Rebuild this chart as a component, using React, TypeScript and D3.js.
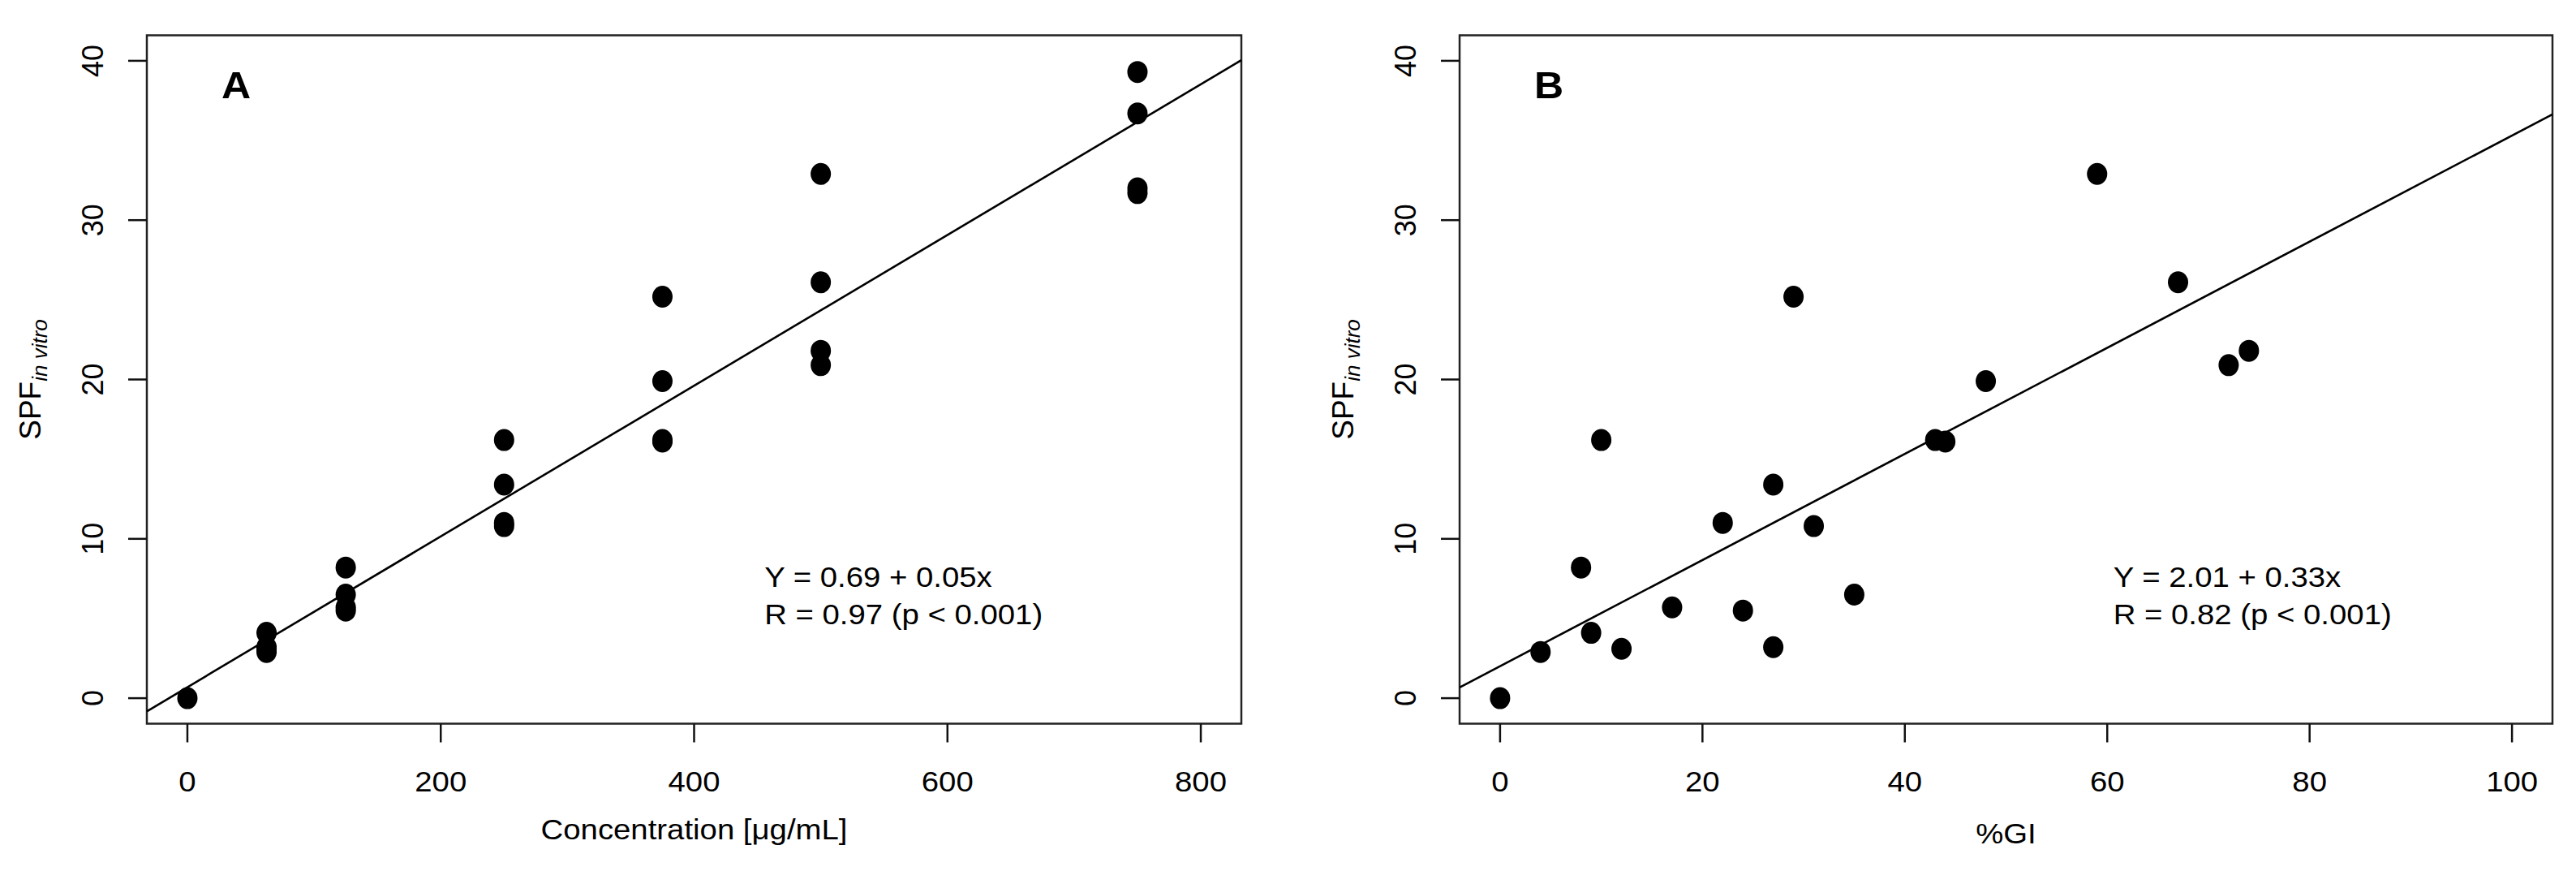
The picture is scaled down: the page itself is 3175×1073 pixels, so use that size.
import React from "react";
import * as d3 from "d3";

// ---- Data ----
const concA = [0, 62.5, 62.5, 62.5, 62.5, 125, 125, 125, 125, 250, 250, 250, 250, 375, 375, 375, 375, 500, 500, 500, 500, 750, 750, 750, 750];
const spfA = [0, 4.1, 3.2, 3.1, 2.9, 8.2, 6.5, 5.7, 5.5, 16.2, 13.4, 11.0, 10.8, 25.2, 19.9, 16.2, 16.1, 32.9, 26.1, 21.8, 20.9, 39.3, 36.7, 32.0, 31.7];

const giB = [0, 4, 8, 9, 10, 12, 17, 22, 24, 27, 27, 29, 31, 35, 43, 44, 48, 59, 67, 72, 74];
const spfB = [0, 2.9, 8.2, 4.1, 16.2, 3.1, 5.7, 11.0, 5.5, 13.4, 3.2, 25.2, 10.8, 6.5, 16.2, 16.1, 19.9, 32.9, 26.1, 20.9, 21.8];

const xTicksA = [0, 200, 400, 600, 800];
const xTicksB = [0, 20, 40, 60, 80, 100];
const yTicks = [0, 10, 20, 30, 40];

const fitA = [0.69, 0.0473]; // intercept, slope (as drawn)
const fitB = [2.01, 0.333];

const eqA = ["Y = 0.69 + 0.05x", "R = 0.97 (p < 0.001)"];
const eqB = ["Y = 2.01 + 0.33x", "R = 0.82 (p < 0.001)"];

const FONT = "'Liberation Sans', Arial, Helvetica, sans-serif";

type PanelProps = {
  xs: number[];
  ys: number[];
  xTicks: number[];
  xDomain: [number, number];
  left: number;
  right: number;
  fit: number[];
  eq: string[];
  eqX: number;
  letter: string;
  xTitle: string;
  xTitleBaseline: number;
};

const TOP = 43.5;
const BOTTOM = 891.5;
const SX = 1.065;

function HText({ x, y, children, anchor = "middle", size = 36, weight = "normal" }: any) {
  return (
    <g transform={`translate(${x},${y}) scale(${SX},1)`}>
      <text x={0} y={0} textAnchor={anchor} fontSize={size} fontWeight={weight} fontFamily={FONT} fill="#000">
        {children}
      </text>
    </g>
  );
}

function Panel(p: PanelProps) {
  const x = d3.scaleLinear().domain(p.xDomain).range([p.left, p.right]);
  const y = d3.scaleLinear().domain([-1.6, 41.6]).range([BOTTOM, TOP]);
  const [x0, x1] = p.xDomain;
  const line = d3.line<number>()
    .x((d) => x(d))
    .y((d) => y(p.fit[0] + p.fit[1] * d));
  const cx = (p.left + p.right) / 2;
  const cy = (TOP + BOTTOM) / 2;
  return (
    <g>
      {/* box */}
      <rect x={p.left} y={TOP} width={p.right - p.left} height={BOTTOM - TOP} fill="none" stroke="#222" strokeWidth={2.5} />
      {/* x ticks */}
      {p.xTicks.map((t) => (
        <g key={"xt" + t}>
          <line x1={x(t)} x2={x(t)} y1={BOTTOM} y2={BOTTOM + 23} stroke="#111" strokeWidth={2.5} />
          <HText x={x(t)} y={975}>{String(t)}</HText>
        </g>
      ))}
      {/* y ticks */}
      {yTicks.map((t) => (
        <g key={"yt" + t}>
          <line x1={p.left - 23} x2={p.left} y1={y(t)} y2={y(t)} stroke="#111" strokeWidth={2.5} />
          <text
            transform={`translate(${p.left - 54},${y(t)}) rotate(-90)`}
            textAnchor="middle"
            fontSize={36}
            fontFamily={FONT}
            fill="#000"
          >
            {String(t)}
          </text>
        </g>
      ))}
      {/* y title */}
      <text
        transform={`translate(${p.left - 131},${cy}) rotate(-90)`}
        textAnchor="middle"
        fontSize={37}
        fontFamily={FONT}
        fill="#000"
      >
        SPF
        <tspan fontSize={26} fontStyle="italic" dy={8}>in vitro</tspan>
      </text>
      {/* x title */}
      <HText x={cx} y={p.xTitleBaseline}>{p.xTitle}</HText>
      {/* regression line */}
      <path d={line([x0, x1]) || ""} fill="none" stroke="#000" strokeWidth={2.6} />
      {/* points */}
      {p.xs.map((v, i) => (
        <ellipse key={"pt" + i} cx={x(v)} cy={y(p.ys[i])} rx={12.5} ry={13.5} fill="#000" />
      ))}
      {/* panel letter */}
      <HText x={p.left + 92} y={121} anchor="start" size={47} weight="bold">{p.letter}</HText>
      {/* equation */}
      <HText x={x(p.eqX)} y={723} anchor="start">{p.eq[0]}</HText>
      <HText x={x(p.eqX)} y={769} anchor="start">{p.eq[1]}</HText>
    </g>
  );
}

export default function App() {
  return (
    <svg
      width={3175}
      height={1073}
      style={{ position: "absolute", left: 0, top: 0, background: "#fff" }}
    >
      <rect x={0} y={0} width={3175} height={1073} fill="#fff" />
      <Panel
        xs={concA}
        ys={spfA}
        xTicks={xTicksA}
        xDomain={[-32, 832]}
        left={181}
        right={1530}
        fit={fitA}
        eq={eqA}
        eqX={455.5}
        letter="A"
        xTitle="Concentration [μg/mL]"
        xTitleBaseline={1034}
      />
      <Panel
        xs={giB}
        ys={spfB}
        xTicks={xTicksB}
        xDomain={[-4, 104]}
        left={1799}
        right={3146}
        fit={fitB}
        eq={eqB}
        eqX={60.6}
        letter="B"
        xTitle="%GI"
        xTitleBaseline={1039}
      />
    </svg>
  );
}
